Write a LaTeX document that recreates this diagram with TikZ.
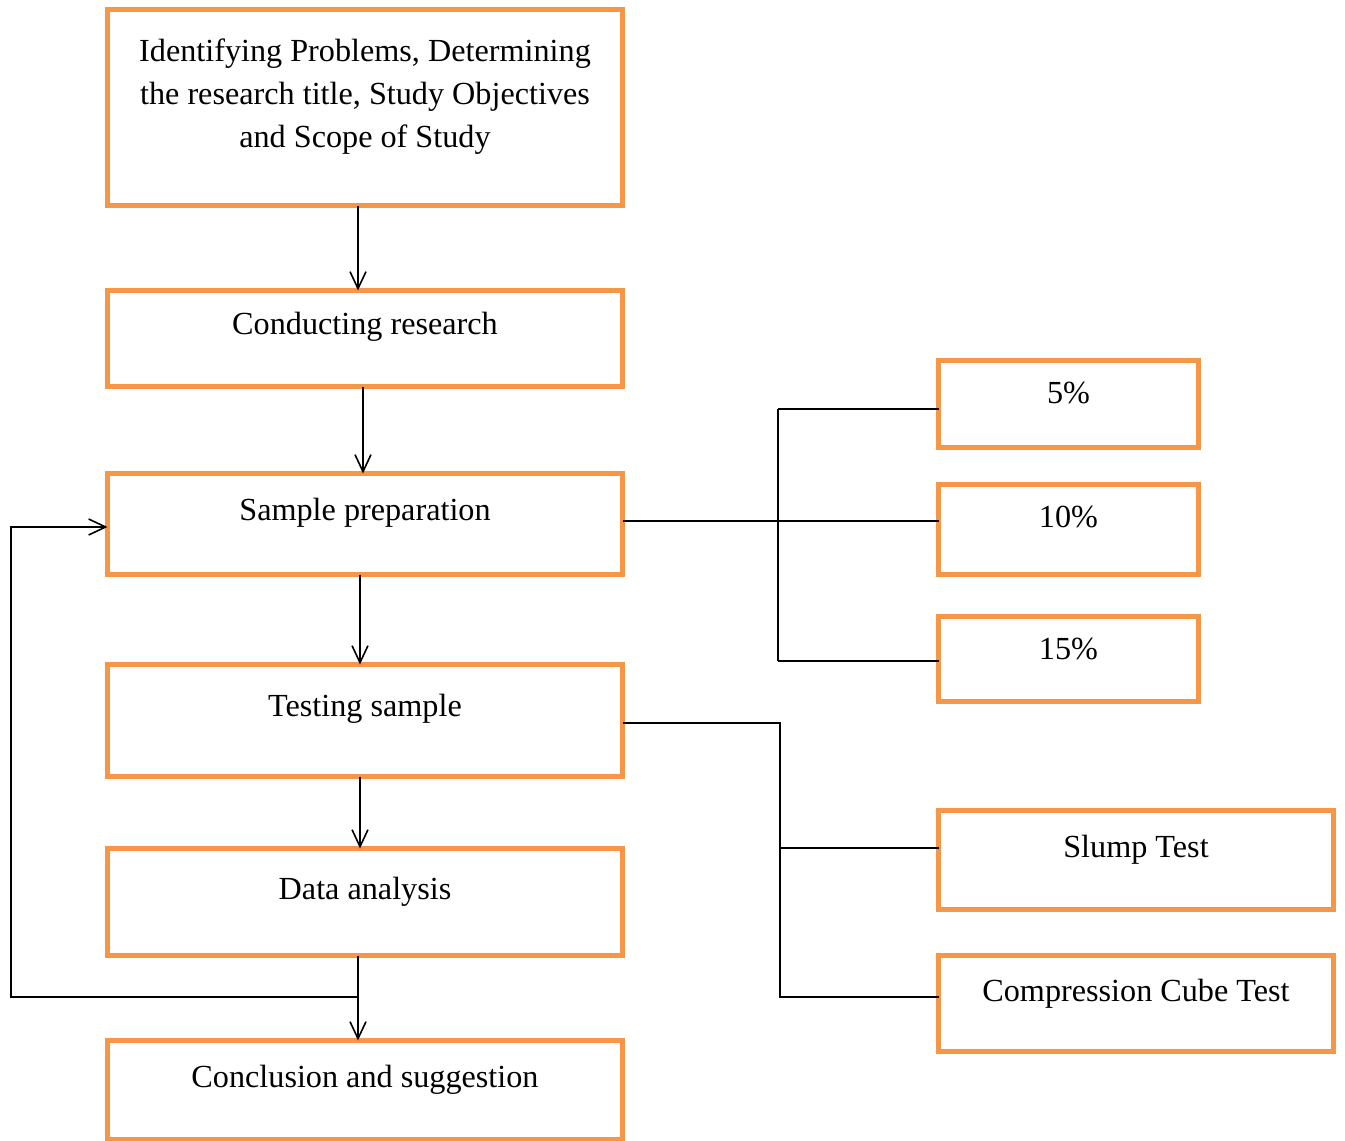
\documentclass[tikz,border=0pt]{standalone}
\usepackage{fontspec}
\setmainfont{Liberation Serif}
\usepackage{tikz}
\usetikzlibrary{arrows.meta}
\definecolor{boxorange}{HTML}{F79646}

\begin{document}
\begin{tikzpicture}[x=0.5pt, y=-0.5pt, font=\fontsize{16.1pt}{21.5pt}\selectfont,
	stage/.style={draw=boxorange, line width=2.5pt, anchor=north west, inner sep=0pt, outer sep=0pt, minimum width=257.5pt},
	side/.style={stage, minimum width=130pt},
	testbox/.style={stage, minimum width=197.5pt},
	boxtext/.style={anchor=base, inner sep=0pt, align=center, yshift=#1},
	flow/.style={-{Straight Barb[length=8.5pt,width=8pt]}, line width=0.8pt},
	tie/.style={line width=0.8pt}]
	\useasboundingbox (0,0) rectangle (1345,1141);
	% main column
	\node[stage, minimum height=98pt, label={[boxtext=-68.75pt]north:Identifying Problems, Determining\\the research title, Study Objectives\\and Scope of Study}] (idp) at (107.5,9.5) {};
	\node[stage, minimum height=48pt, label={[boxtext=-22pt]north:Conducting research}] (cr) at (107.5,290.5) {};
	\node[stage, minimum height=50.5pt, label={[boxtext=-23.25pt]north:Sample preparation}] (sp) at (107.5,473.5) {};
	\node[stage, minimum height=56pt, label={[boxtext=-25.75pt]north:Testing sample}] (ts) at (107.5,664.5) {};
	\node[stage, minimum height=53.5pt, label={[boxtext=-25.25pt]north:Data analysis}] (da) at (107.5,848.5) {};
	\node[stage, minimum height=49.5pt, label={[boxtext=-23.25pt]north:Conclusion and suggestion}] (cs) at (107.5,1040.5) {};
	% percentages
	\node[side, minimum height=43.5pt, label={[boxtext=-21.25pt]north:5\%}] (p5) at (938.5,360.5) {};
	\node[side, minimum height=45pt, label={[boxtext=-21.25pt]north:10\%}] (p10) at (938.5,484.5) {};
	\node[side, minimum height=42.5pt, label={[boxtext=-21.25pt]north:15\%}] (p15) at (938.5,616.5) {};
	% tests
	\node[testbox, minimum height=49.5pt, label={[boxtext=-23.25pt]north:Slump Test}] (slump) at (938.5,810.5) {};
	\node[testbox, minimum height=48pt, label={[boxtext=-22.75pt]north:Compression Cube Test}] (cct) at (938.5,955.5) {};

	\draw[flow] ([xshift=-3.5pt]idp.south) -- ([xshift=-3.5pt]cr.north);
	\draw[flow] ([xshift=-1pt]cr.south) -- ([xshift=-1pt]sp.north);
	\draw[flow] ([xshift=-2.5pt]sp.south) -- ([xshift=-2.5pt]ts.north);
	\draw[flow] ([xshift=-2.5pt]ts.south) -- ([xshift=-2.5pt]da.north);
	\draw[flow] ([xshift=-3.5pt]da.south) -- ([xshift=-3.5pt]cs.north);
	\coordinate (back) at (358,997);
	\draw[flow] (back) -- (11,997) -- (11,527) -- ([yshift=-1.5pt]sp.west);

	\coordinate (mixtop) at (778,409);
	\coordinate (mixbot) at (778,661);
	\draw[tie] (mixtop) -- (mixbot);
	\draw[tie] (mixtop) -- (mixtop -| p5.west);
	\draw[tie] ([yshift=1.5pt]sp.east) coordinate (mixmid) -- (mixmid -| p10.west);
	\draw[tie] (mixbot) -- (mixbot -| p15.west);

	\coordinate (testmid) at (780,848);
	\coordinate (testbot) at (780,997);
	\draw[tie] ([yshift=-1.25pt]ts.east) -| (testbot) -- (testbot -| cct.west);
	\draw[tie] (testmid) -- (testmid -| slump.west);
\end{tikzpicture}
\end{document}
